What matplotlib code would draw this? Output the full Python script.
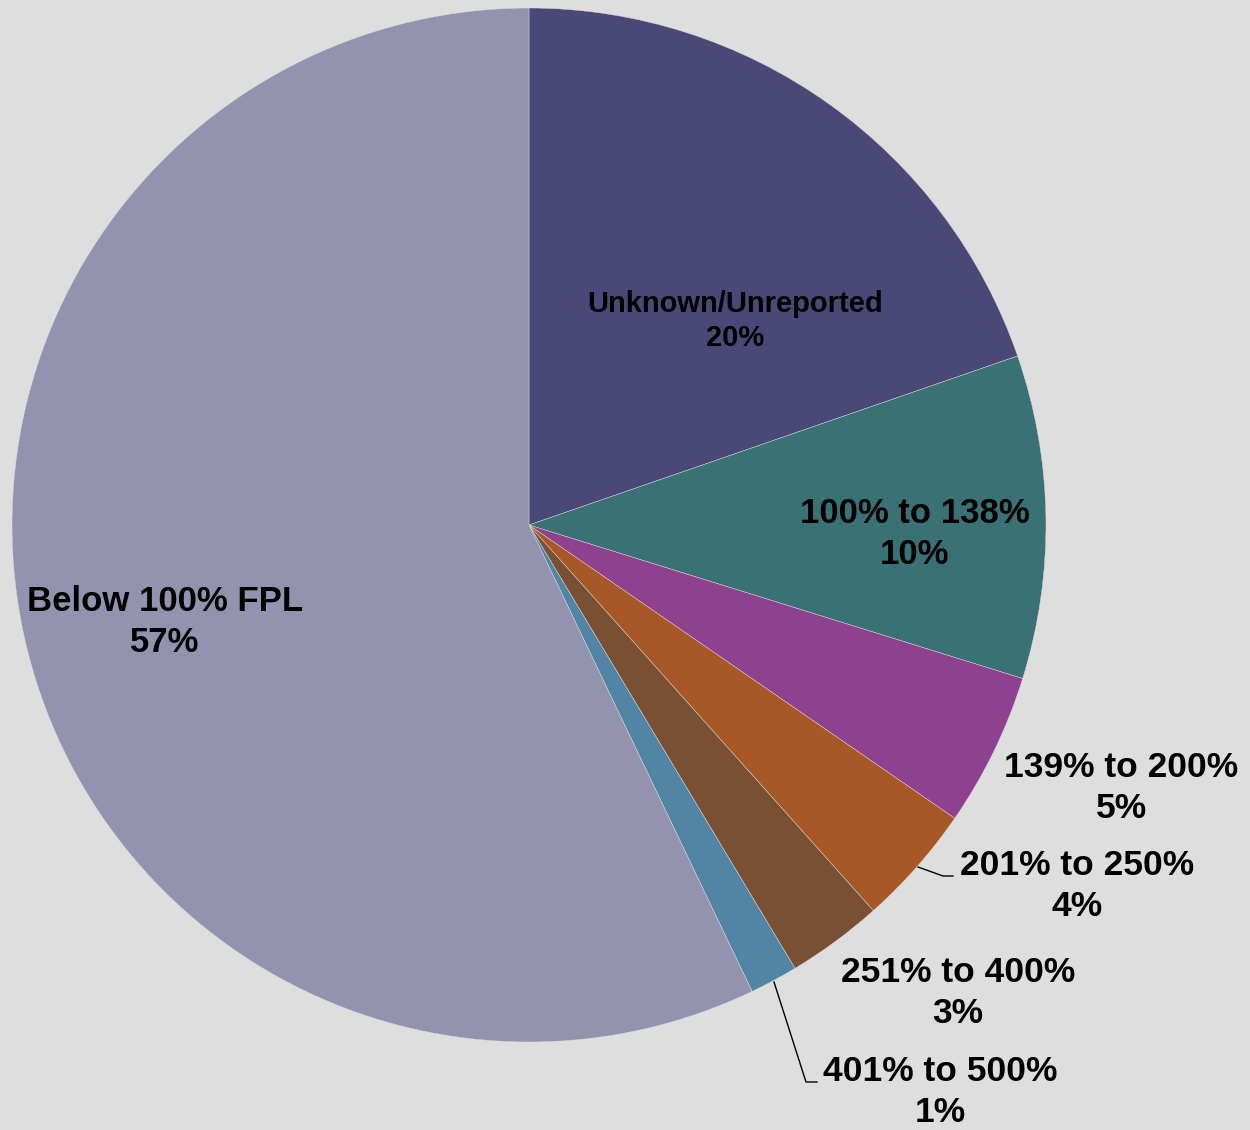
import matplotlib.pyplot as plt

labels = ["Unknown/Unreported", "100% to 138%", "139% to 200%", "201% to 250%",
          "251% to 400%", "401% to 500%", "Below 100% FPL"]
values = [19.7, 10.1, 4.8, 3.8, 3.0, 1.5, 57.1]
pct_labels = ["20%", "10%", "5%", "4%", "3%", "1%", "57%"]
colors = ["#4A4877", "#3A7175", "#8E418E", "#A85726", "#7A5035", "#5285A5", "#9393AF"]

W, H = 1250, 1130
bg = "#DEDEDE"

fig = plt.figure(figsize=(W / 100, H / 100), dpi=100, facecolor=bg)
ax = fig.add_axes([0, 0, 1, 1])
ax.set_facecolor(bg)

ax.pie(values, colors=colors, startangle=90, counterclock=False,
       radius=517, center=(529, H - 525),
       wedgeprops=dict(linewidth=0.3, edgecolor=bg))
ax.set_xlim(0, W)
ax.set_ylim(0, H)
ax.set_aspect("equal")
ax.axis("off")

font = dict(family=["Liberation Sans", "DejaVu Sans"], weight="bold",
            ha="center", va="center", color="black", linespacing=1.28)

# label block centres (pixel coords from top-left) and sizes
label_pos = [(735, 321), (915, 534), (1121, 788), (1077, 886),
             (958, 993), (940, 1092), (165, 622)]
sizes = [21, 25, 25.5, 25.5, 25.5, 25.5, 25]

for name, pct, (x, y), s in zip(labels, pct_labels, label_pos, sizes):
    ax.text(x, H - y, name + "\n" + pct, fontsize=s, **font)

# leader lines
ax.plot([918, 943, 953], [H - 867, H - 876, H - 876], color="black", lw=1)
ax.plot([774, 806, 817], [H - 982, H - 1082, H - 1082], color="black", lw=1)

fig.savefig("out.png", dpi=100, facecolor=bg)
